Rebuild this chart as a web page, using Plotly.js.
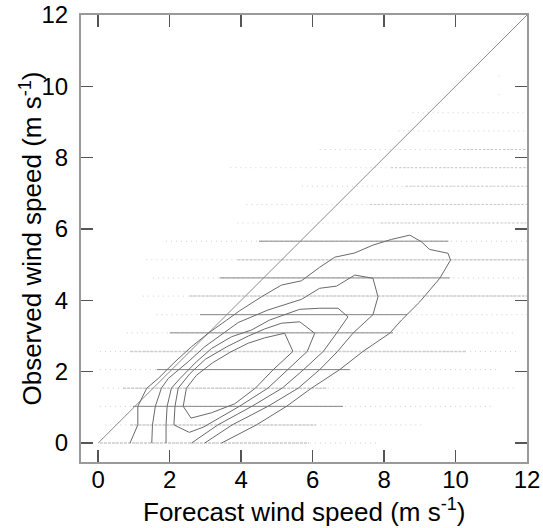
<!DOCTYPE html>
<html>
<head>
<meta charset="utf-8">
<script src="https://cdn.plot.ly/plotly-3.0.1.min.js"></script>
<style>html,body{margin:0;padding:0;background:#fff}#chart{width:543px;height:528px}</style>
</head>
<body>
<div id="chart"></div>
<script>
// Observed wind-speed bands (knot steps in m/s) and the x-extent of the dots on each band
const bandY      = [0, 0.51, 1.03, 1.54, 2.06, 2.57, 3.09, 3.60, 4.12, 4.63, 5.14, 5.66, 6.17, 6.69, 7.20, 7.72, 8.23, 8.75, 9.26, 9.77, 10.29];
const bandStart  = [0.05, 0.2, 0.05, 0.13, 0.05, 0.05, 0.8, 1.63, 1.25, 1.53, 1.35, 1.9, 3.9, 4.15, 5.7, 3.7, 6.2, 8.4, 8.8, 11.2, 11.2];
const denseStart = [0.05, 0.9, 0.97, 0.7, 1.64, 0.9, 2.0, 2.85, 2.56, 3.4, 3.9, 4.5, 7.9, 7.6, 8.6, 8.2, 10.1, null, null, null, null];
const denseEnd   = [5.9, 6.1, 6.85, 6.4, 7.04, 10.3, 8.25, 8.64, 12.0, 9.84, 12.0, 9.8, 12.0, 12.0, 12.0, 12.0, 12.0, null, null, null, null];
const bandEnd    = [7.8, 9.1, 11.1, 11.7, 11.2, 11.8, 11.7, 12.0, 12.0, 12.0, 12.0, 12.0, 12.0, 12.0, 12.0, 12.0, 12.0, 12.0, 11.9, 11.26, 11.26];
const bandTone   = ['l','l','d','l','d','l','d','d','l','d','l','d','m','m','m','m','m','m','m','m','m'];

// Density contours (outer to inner)
const c1x = [0.89,1.11,1.11,1.36,1.68,2.15,2.61,3.08,3.6,3.96,4.57,5.13,5.69,6.2,6.62,7.18,7.69,8.21,8.72,9.05,9.27,9.79,9.86,9.56,9.0,8.49,8.16,7.41,6.76,5.97,5.27,4.43,3.45];
const c1y = [0,0.51,1.03,1.54,1.81,2.28,2.7,3.08,3.45,3.71,4.1,4.43,4.55,4.93,5.21,5.33,5.55,5.71,5.83,5.64,5.43,5.32,5.13,4.62,3.96,3.45,3.08,2.57,2.06,1.54,1.03,0.51,0];
const c2x = [1.5,1.52,1.6,1.77,1.96,2.52,2.98,3.54,3.92,4.75,5.69,6.2,6.67,7.18,7.69,7.83,7.69,7.13,6.7,6.2,5.6,4.75,3.75,2.98];
const c2y = [0,0.51,1.03,1.54,1.81,2.28,2.7,3.12,3.38,3.73,4.03,4.34,4.4,4.71,4.62,4.1,3.6,3.08,2.57,2.06,1.54,1.03,0.51,0];
const c3x = [1.9,1.9,1.93,2.05,2.29,2.75,3.17,3.73,4.29,4.8,5.64,6.2,6.71,6.99,6.67,6.3,5.75,5.15,4.3,3.35,2.61];
const c3y = [0,0.51,1.03,1.54,1.81,2.28,2.65,2.98,3.17,3.45,3.75,3.78,3.78,3.54,3.08,2.57,2.06,1.54,1.03,0.51,0];
const c4x = [2.55,2.12,2.15,2.24,2.57,3.0,3.6,4.2,4.66,5.13,5.64,6.06,5.85,5.3,4.75,3.95,3.4,2.95,2.55];
const c4y = [0.3,0.51,1.03,1.54,1.95,2.35,2.7,3.0,3.2,3.36,3.4,3.08,2.57,2.06,1.54,1.03,0.7,0.45,0.3];
const c5x = [2.6,2.38,2.47,2.75,3.2,3.7,4.2,4.66,5.22,5.45,4.9,4.4,3.82,3.17,2.6];
const c5y = [0.7,1.03,1.54,1.9,2.25,2.55,2.8,2.95,3.08,2.57,2.06,1.54,1.1,0.85,0.7];

// 1:1 reference line
const diagX = [0, 12];
const diagY = [0, 12];

const xTicks = [0, 2, 4, 6, 8, 10, 12];
const yTicks = [0, 2, 4, 6, 8, 10, 12];
const xTitle = 'Forecast wind speed (m s<sup>-1</sup>)';
const yTitle = 'Observed wind speed (m s<sup>-1</sup>)';

const traces = [];
for (let i = 0; i < bandY.length; i++) {
  traces.push({
    type: 'scatter', mode: 'lines', x: [bandStart[i], bandEnd[i]], y: [bandY[i], bandY[i]],
    line: {color: '#cfcfcf', width: 1, dash: '1px,4px'}, hoverinfo: 'skip', showlegend: false
  });
  if (denseStart[i] !== null) {
    const tone = bandTone[i];
    traces.push({
      type: 'scatter', mode: 'lines', x: [denseStart[i], denseEnd[i]], y: [bandY[i], bandY[i]],
      line: {
        color: tone === 'd' ? '#858585' : (tone === 'l' ? '#cdcdcd' : '#c4c4c4'),
        width: tone === 'l' ? 1.5 : 1,
        dash: tone === 'm' ? '2px,2px' : (tone === 'l' ? '3px,1px' : 'solid')
      },
      hoverinfo: 'skip', showlegend: false
    });
  }
}
traces.push({type: 'scatter', mode: 'lines', x: diagX, y: diagY,
  line: {color: '#8c8c8c', width: 1}, showlegend: false, hoverinfo: 'skip'});
const cs = [[c1x,c1y],[c2x,c2y],[c3x,c3y],[c4x,c4y],[c5x,c5y]];
cs.forEach(c => traces.push({type: 'scatter', mode: 'lines', x: c[0], y: c[1],
  line: {color: '#6a6a6a', width: 1}, showlegend: false, hoverinfo: 'skip'}));

const fontFam = '"Liberation Sans", Arial, Helvetica, sans-serif';
const axisCommon = {
  showgrid: false, zeroline: false, showline: true, linecolor: '#9a9a9a', linewidth: 2,
  mirror: 'ticks', ticks: 'inside', ticklen: 12, tickwidth: 1.5, tickcolor: '#555',
  tickfont: {family: fontFam, size: 24, color: '#000'}
};
const layout = {
  width: 543, height: 528,
  margin: {l: 81, r: 16, t: 15, b: 66},
  paper_bgcolor: '#fff', plot_bgcolor: '#fff',
  xaxis: Object.assign({}, axisCommon, {
    range: [-0.48, 12], tickmode: 'array', tickvals: xTicks, ticktext: xTicks.map(String),
    ticklabelstandoff: -5
  }),
  yaxis: Object.assign({}, axisCommon, {
    range: [-0.53, 12], tickmode: 'array', tickvals: yTicks, ticktext: yTicks.map(String),
    ticklabelstandoff: 6
  }),
  annotations: [
    {text: xTitle, xref: 'paper', yref: 'paper', x: 0.5, y: -0.108, xanchor: 'center', yanchor: 'middle',
     showarrow: false, font: {family: fontFam, size: 26, color: '#000'}},
    {text: yTitle, xref: 'paper', yref: 'paper', x: -0.112, y: 0.5, xanchor: 'center', yanchor: 'middle',
     textangle: -90, showarrow: false, font: {family: fontFam, size: 26, color: '#000'}}
  ],
  showlegend: false
};
Plotly.newPlot('chart', traces, layout, {staticPlot: true, displayModeBar: false});
</script>
</body>
</html>
